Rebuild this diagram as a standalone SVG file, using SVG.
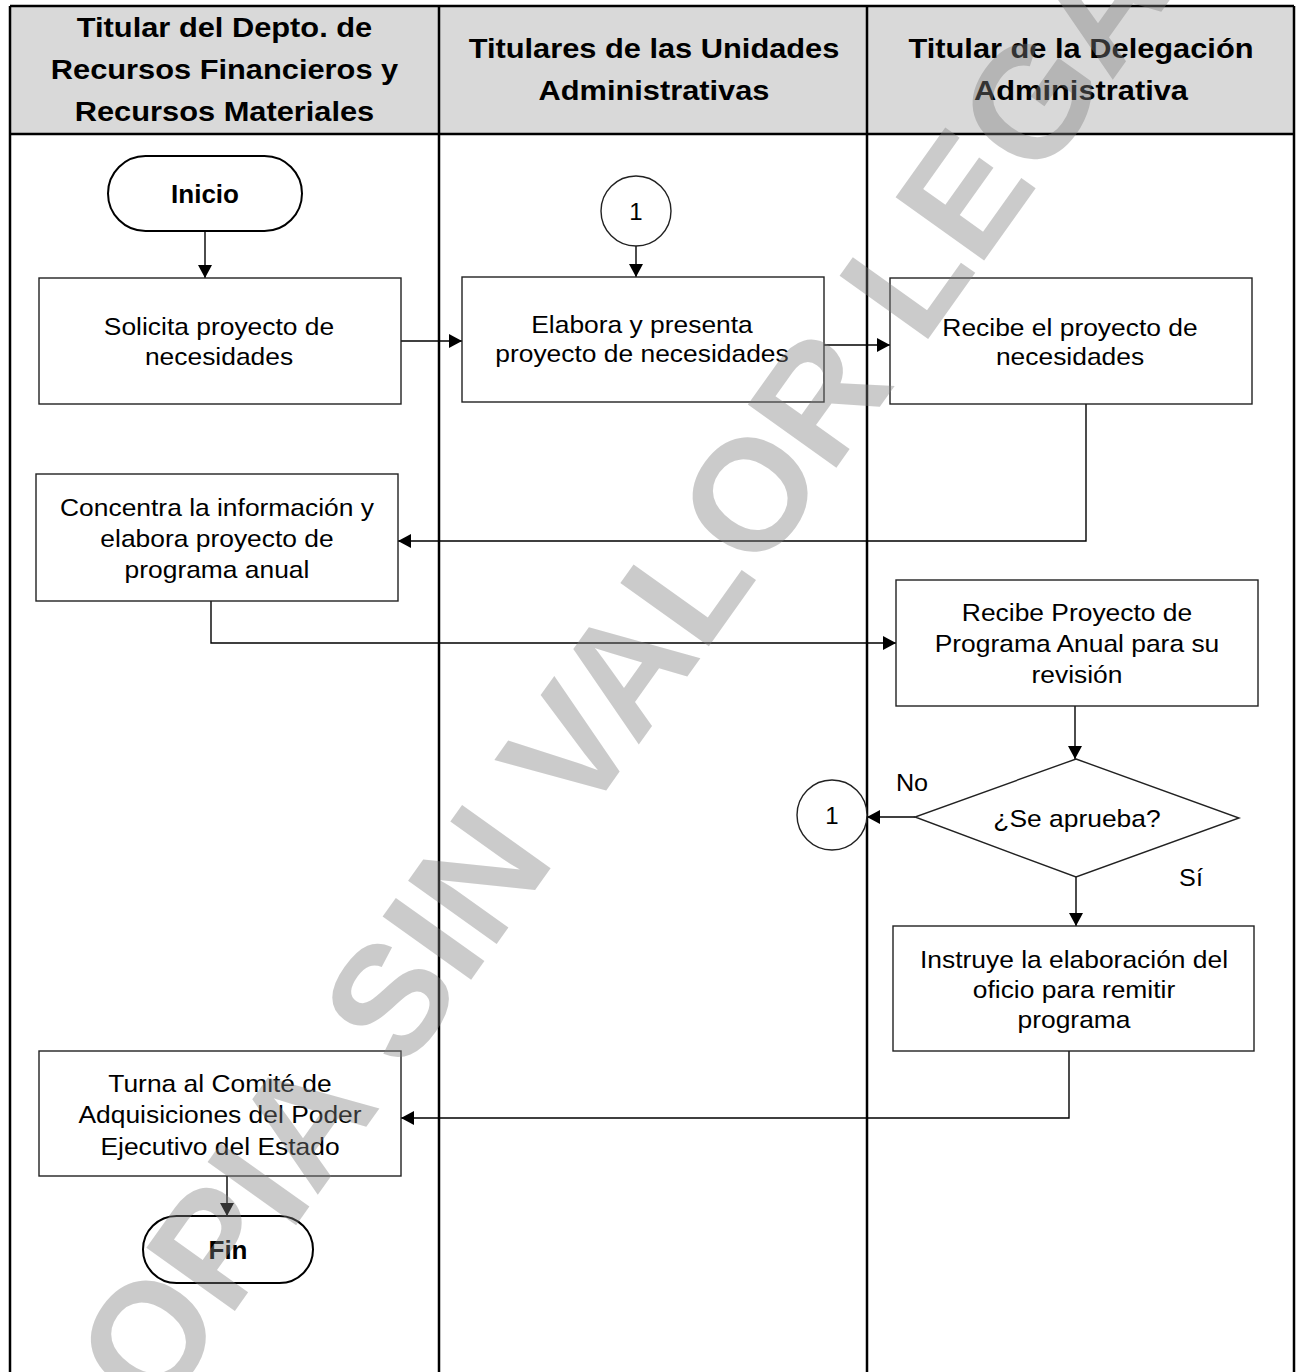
<svg xmlns="http://www.w3.org/2000/svg" width="1296" height="1372" viewBox="0 0 1296 1372">
  <style>
    .lane{fill:none;stroke:#000;stroke-width:2.5}
    .hdr{fill:#d9d9d9;stroke:none}
    .ht{font-family:"Liberation Sans",Arial,sans-serif;font-size:28px;font-weight:bold;fill:#000;text-anchor:middle}
    .box{fill:#fff;stroke:#222;stroke-width:1.4}
    .term{fill:#fff;stroke:#000;stroke-width:2}
    .t{font-family:"Liberation Sans",Arial,sans-serif;font-size:24px;fill:#000;text-anchor:middle}
    .tb{font-family:"Liberation Sans",Arial,sans-serif;font-size:26px;font-weight:bold;fill:#000;text-anchor:middle}
    .con{fill:none;stroke:#000;stroke-width:1.4}
    .wm{font-family:"Liberation Sans",Arial,sans-serif;font-size:158px;font-weight:bold;fill:#808080;opacity:0.4;text-anchor:middle}
  </style>
  <defs>
    <marker id="arr" markerUnits="userSpaceOnUse" viewBox="0 0 13 14" refX="13" refY="7" markerWidth="13" markerHeight="14" orient="auto">
      <path d="M0,0 L13,7 L0,14 Z" fill="#000"/>
    </marker>
  </defs>
  <rect width="1296" height="1372" fill="#fff"/>
  <g id="lanes">
    <rect class="hdr" x="10" y="6" width="1284" height="128"/>
    <line class="lane" x1="10" y1="6" x2="1294" y2="6"/>
    <line class="lane" x1="10" y1="134" x2="1294" y2="134"/>
    <line class="lane" x1="10" y1="6" x2="10" y2="1372"/>
    <line class="lane" x1="439" y1="6" x2="439" y2="1372"/>
    <line class="lane" x1="867" y1="6" x2="867" y2="1372"/>
    <line class="lane" x1="1294" y1="6" x2="1294" y2="1372"/>
    <text class="ht" transform="matrix(1.1 0 0 1 224.5 0)"><tspan x="0" y="37">Titular del Depto. de</tspan><tspan x="0" y="79">Recursos Financieros y</tspan><tspan x="0" y="121">Recursos Materiales</tspan></text>
    <text class="ht" transform="matrix(1.1 0 0 1 654 0)"><tspan x="0" y="58">Titulares de las Unidades</tspan><tspan x="0" y="100">Administrativas</tspan></text>
    <text class="ht" transform="matrix(1.1 0 0 1 1081 0)"><tspan x="0" y="58">Titular de la Delegación</tspan><tspan x="0" y="100">Administrativa</tspan></text>
  </g>
  <g id="connectors">
    <path class="con" d="M205,231 V278" marker-end="url(#arr)"/>
    <path class="con" d="M636,246 V277" marker-end="url(#arr)"/>
    <path class="con" d="M401,341 H462" marker-end="url(#arr)"/>
    <path class="con" d="M824,345 H890" marker-end="url(#arr)"/>
    <path class="con" d="M1086,404 V541 H398" marker-end="url(#arr)"/>
    <path class="con" d="M211,601 V643 H896" marker-end="url(#arr)"/>
    <path class="con" d="M1075,706 V759" marker-end="url(#arr)"/>
    <path class="con" d="M915,817 H867" marker-end="url(#arr)"/>
    <path class="con" d="M1076,877 V926" marker-end="url(#arr)"/>
    <path class="con" d="M1069,1051 V1118 H401" marker-end="url(#arr)"/>
    <path class="con" d="M227,1176 V1216" marker-end="url(#arr)"/>
  </g>
  <g id="inicio">
    <rect class="term" x="108" y="156" width="194" height="75" rx="37.5"/>
    <text class="tb" x="205" y="203">Inicio</text>
  </g>
  <g id="solicita">
    <rect class="box" x="39" y="278" width="362" height="126"/>
    <text class="t" transform="matrix(1.1 0 0 1 219 0)"><tspan x="0" y="335">Solicita proyecto de</tspan><tspan x="0" y="365">necesidades</tspan></text>
  </g>
  <g id="conector1a">
    <circle class="box" cx="636" cy="211" r="35"/>
    <text class="t" x="636" y="220">1</text>
  </g>
  <g id="elabora">
    <rect class="box" x="462" y="277" width="362" height="125"/>
    <text class="t" transform="matrix(1.1 0 0 1 642 0)"><tspan x="0" y="333">Elabora y presenta</tspan><tspan x="0" y="362">proyecto de necesidades</tspan></text>
  </g>
  <g id="recibe">
    <rect class="box" x="890" y="278" width="362" height="126"/>
    <text class="t" transform="matrix(1.1 0 0 1 1070 0)"><tspan x="0" y="336">Recibe el proyecto de</tspan><tspan x="0" y="365">necesidades</tspan></text>
  </g>
  <g id="concentra">
    <rect class="box" x="36" y="474" width="362" height="127"/>
    <text class="t" transform="matrix(1.1 0 0 1 217 0)"><tspan x="0" y="516">Concentra la información y</tspan><tspan x="0" y="547">elabora proyecto de</tspan><tspan x="0" y="578">programa anual</tspan></text>
  </g>
  <g id="recibe-programa">
    <rect class="box" x="896" y="580" width="362" height="126"/>
    <text class="t" transform="matrix(1.1 0 0 1 1077 0)"><tspan x="0" y="621">Recibe Proyecto de</tspan><tspan x="0" y="652">Programa Anual para su</tspan><tspan x="0" y="683">revisión</tspan></text>
  </g>
  <g id="decision">
    <polygon class="box" points="1076,759 1239,818 1076,877 915,817"/>
    <text class="t" transform="matrix(1.1 0 0 1 1077 0)" x="0" y="827">¿Se aprueba?</text>
    <text class="t" transform="matrix(1.05 0 0 1 912 0)" x="0" y="791">No</text>
    <text class="t" transform="matrix(1.05 0 0 1 1191 0)" x="0" y="886">Sí</text>
  </g>
  <g id="conector1b">
    <circle class="box" cx="832" cy="815" r="35"/>
    <text class="t" x="832" y="824">1</text>
  </g>
  <g id="instruye">
    <rect class="box" x="893" y="926" width="361" height="125"/>
    <text class="t" transform="matrix(1.1 0 0 1 1074 0)"><tspan x="0" y="968">Instruye la elaboración del</tspan><tspan x="0" y="998">oficio para remitir</tspan><tspan x="0" y="1028">programa</tspan></text>
  </g>
  <g id="turna">
    <rect class="box" x="39" y="1051" width="362" height="125"/>
    <text class="t" transform="matrix(1.1 0 0 1 220 0)"><tspan x="0" y="1092">Turna al Comité de</tspan><tspan x="0" y="1123">Adquisiciones del Poder</tspan><tspan x="0" y="1155">Ejecutivo del Estado</tspan></text>
  </g>
  <g id="fin">
    <rect class="term" x="143" y="1216" width="170" height="67" rx="33.5"/>
    <text class="tb" x="228" y="1259">Fin</text>
  </g>
  <g id="watermark">
    <text class="wm" transform="translate(662 712) rotate(-54.5)" x="0" y="0">COPIA SIN VALOR LEGAL</text>
  </g>
</svg>
